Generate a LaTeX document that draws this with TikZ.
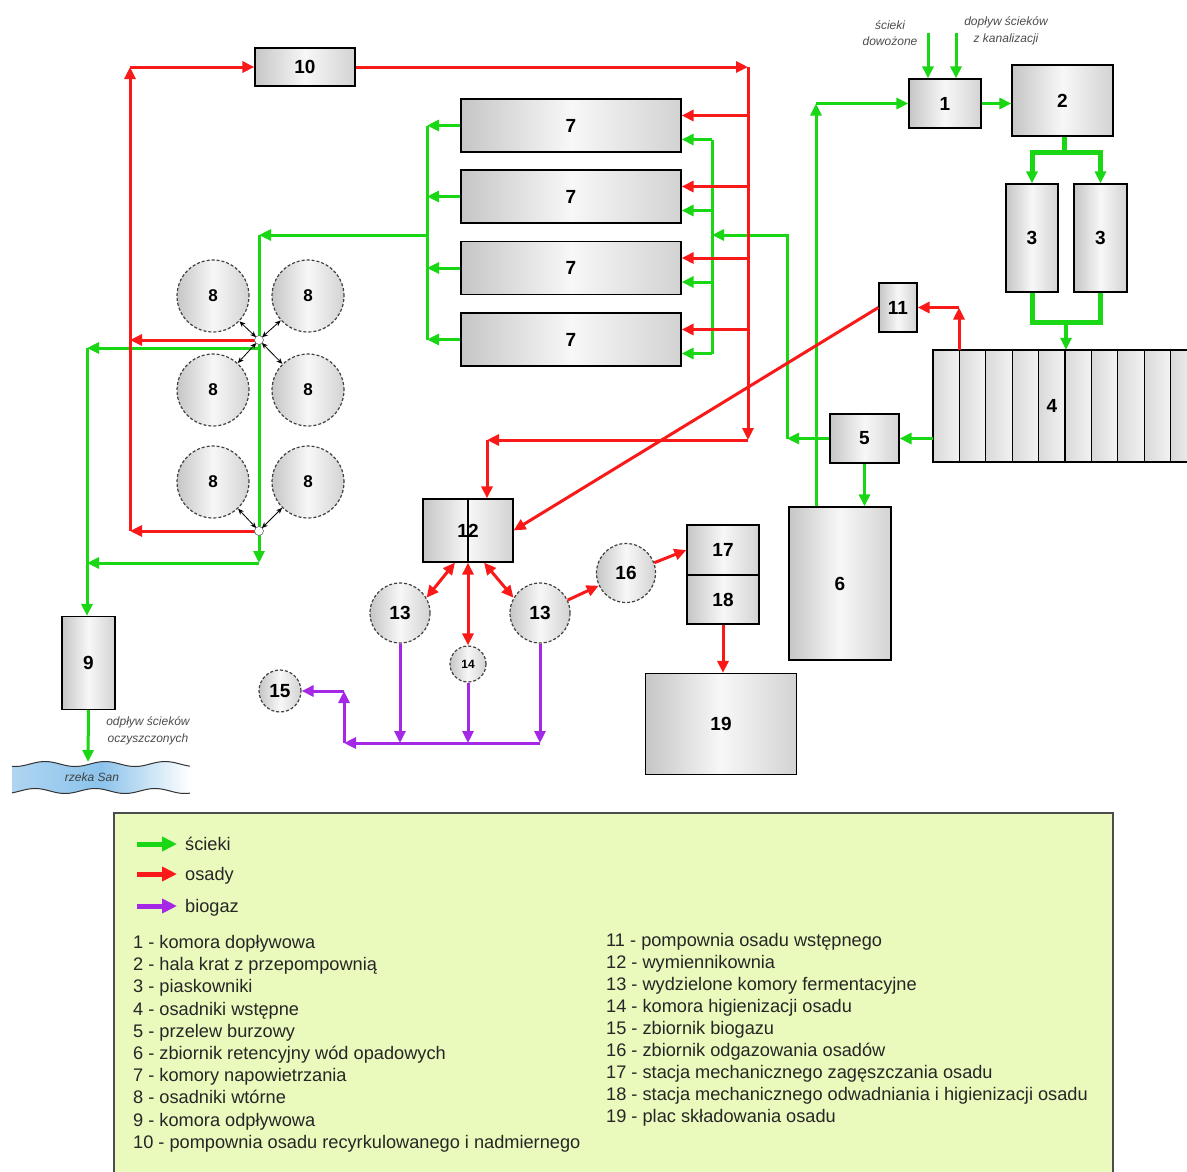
\documentclass[tikz,border=0pt]{standalone}
\usepackage{fontspec}
\setmainfont{Liberation Sans}
\usetikzlibrary{arrows.meta}
\definecolor{sciekgreen}{RGB}{25,215,20}
\definecolor{osadred}{RGB}{250,25,25}
\definecolor{gazviolet}{RGB}{165,40,230}
\definecolor{legendfill}{RGB}{234,249,188}
\definecolor{rzeka}{RGB}{140,195,235}
\begin{document}
\begin{tikzpicture}[x=1pt, y=-1pt,
box/.style={draw, line width=1.2pt, left color=gray!45, right color=gray!35, middle color=gray!6, inner sep=0pt, font=\bfseries\fontsize{19}{19}\selectfont},
zbiornik/.style={box, circle, draw=black!75, densely dashed},
wezel/.style={circle, draw=black!60, fill=white, inner sep=0pt, minimum size=9pt, line width=0.6pt},
rura/.style={line width=3pt},
scieki/.style={rura, sciekgreen, -{Triangle[length=12pt, width=11pt]}},
osady/.style={rura, osadred, -{Triangle[length=12pt, width=11pt]}},
osady2/.style={osady, {Triangle[length=12pt, width=11pt]}-{Triangle[length=12pt, width=11pt]}},
biogaz/.style={rura, gazviolet, -{Triangle[length=12pt, width=11pt]}},
lacznik/.style={black, line width=0.8pt, {Stealth[length=6pt, width=5pt]}-{Stealth[length=6pt, width=5pt]}},
opis/.style={font=\itshape\fontsize{12}{16.5}\selectfont, text=black!70, align=center},
pozycja/.style={anchor=base west, inner sep=0pt, text=black!85, font=\fontsize{18.2}{20}\selectfont}]
\useasboundingbox (0,0) rectangle (1187,1171);

\node[box, minimum width=100pt, minimum height=38pt] (p10) at (305,67) {10};
\node[box, minimum width=72pt, minimum height=49pt] (k1) at (945,103.5) {1};
\node[box, minimum width=101pt, minimum height=71pt] (k2) at (1062.5,100.5) {2};
\node[box, minimum width=52pt, minimum height=108pt] (k3a) at (1032,238) {3};
\node[box, minimum width=53pt, minimum height=108pt] (k3b) at (1100.5,238) {3};
\node[box, minimum width=38pt, minimum height=49pt] (k11) at (898,307.5) {11};
\foreach \i in {0,...,9}
	\shade[draw, line width=1.2pt, left color=gray!30, right color=gray!10] ({933+26.4*\i},350) rectangle ++(26.4,112);
\node[inner sep=0pt, minimum width=238pt, minimum height=112pt, font=\bfseries\fontsize{19}{19}\selectfont] (k4) at (1052,406) {4};
\node[box, minimum width=69pt, minimum height=49pt] (k5) at (864.5,438.5) {5};
\node[box, minimum width=102pt, minimum height=153pt] (k6) at (840,583.5) {6};
\foreach \n/\y in {a/125.5, b/196.5, c/268, d/339.5}
	\node[box, minimum width=220pt, minimum height=53pt] (k7\n) at (571,\y) {7};
\foreach \n/\x/\y in {a/213/296, b/308/296, c/213/390, d/308/390, e/213/482, f/308/482}
	\node[zbiornik, minimum size=72pt, font=\bfseries\fontsize{17}{17}\selectfont] (k8\n) at (\x,\y) {8};
\node[box, minimum width=53pt, minimum height=93pt] (k9) at (88.5,663) {9};
\node[box, minimum width=90pt, minimum height=63pt] (k12) at (468,530.5) {12};
\draw[line width=1.2pt] (k12.north) -- (k12.south);
\node[zbiornik, minimum size=60pt] (k13a) at (400,613) {13};
\node[zbiornik, minimum size=60pt] (k13b) at (540,613) {13};
\node[zbiornik, minimum size=36pt, font=\bfseries\fontsize{12}{12}\selectfont] (k14) at (468,664) {14};
\node[zbiornik, minimum size=42pt] (k15) at (280,691) {15};
\node[zbiornik, minimum size=59pt] (k16) at (626,573) {16};
\node[box, minimum width=72pt, minimum height=50pt] (k17) at (723,550) {17};
\node[box, minimum width=72pt, minimum height=49pt] (k18) at (723,599.5) {18};
\node[box, minimum width=151pt, minimum height=101pt] (k19) at (721,724) {19};

\shade[left color=rzeka!70, right color=white, middle color=rzeka]
	plot[domain=12:190, samples=60] (\x,{764+2.5*sin(6*\x)}) --
	plot[domain=190:12, samples=60] (\x,{791+2.5*sin(6*\x+60)}) -- cycle;
\draw[black!80, line width=1pt] plot[domain=12:190, samples=60] (\x,{764+2.5*sin(6*\x)});
\draw[black!80, line width=1pt] plot[domain=12:190, samples=60] (\x,{791+2.5*sin(6*\x+60)});
\node[opis, text=black!75] (san) at (92,777) {rzeka San};
\node[opis] (dowoz) at (890,33) {ścieki\\dowożone};
\node[opis] (kanal) at (1006,31) {dopływ ścieków\\z kanalizacji};
\node[opis] (odplyw) at (148,731) {odpływ ścieków\\oczyszczonych};

\coordinate (wl1) at (928,33);
\coordinate (wl2) at (956,33);
\coordinate (s2) at (1064,152);
\coordinate (m34) at (1066,322);
\coordinate (r6) at (816,103.5);
\coordinate (r5) at (787,438.5);
\coordinate (g7) at (712,235);
\coordinate (c7) at (427,235);
\coordinate (t8) at (259,235);
\coordinate (b8) at (259,563);
\coordinate (j1) at (259,340);
\coordinate (j2) at (259,531);
\coordinate (o9) at (87,348);
\coordinate (ujscie) at (88,762);
\coordinate (rr) at (748,67);
\coordinate (rb) at (748,440);
\coordinate (c12) at (487,440);
\coordinate (c11) at (959,307.5);
\coordinate (lr) at (130,67);
\coordinate (gb) at (344,743);
\coordinate (gt) at (344,691);

\draw[scieki] (wl1) -- (wl1 |- k1.north);
\draw[scieki] (wl2) -- (wl2 |- k1.north);
\draw[scieki] (k1.east) -- (k1.east -| k2.west);
\draw[rura, sciekgreen, line width=5pt] (k2.south -| s2) -- (s2);
\draw[scieki, line width=5pt] (s2) -| (k3a.north);
\draw[scieki, line width=5pt] (s2) -| (k3b.north);
\draw[rura, sciekgreen, line width=5pt] (k3a.south) -- ++(0,30) -| (k3b.south);
\draw[scieki, line width=4pt] (m34) -- (m34 |- k4.north);
\draw[scieki] (k4.west |- k5.east) -- (k5.east);
\draw[scieki] (k5.south) -- (k5.south |- k6.north);
\draw[scieki] (k6.north -| r6) -- (r6);
\draw[scieki] (r6) -- (k1.west);
\draw[scieki] (k5.west) -- (r5);
\draw[scieki] (r5) |- (g7);
\draw[rura, sciekgreen] ([yshift=-14pt]k7a.east -| g7) -- ([yshift=-14pt]k7d.east -| g7);
\foreach \n in {a,b,c,d}
	\draw[scieki] ([yshift=-14pt]k7\n.east -| g7) -- ([yshift=-14pt]k7\n.east);
\foreach \n in {a,b,c,d}
	\draw[scieki] (k7\n.west) -- (k7\n.west -| c7);
\draw[rura, sciekgreen] (k7a.west -| c7) -- (k7d.west -| c7);
\draw[scieki] (c7) -- (t8);
\draw[scieki] (t8) -- (b8);
\draw[scieki] (b8) -- (b8 -| o9);
\draw[scieki] ([yshift=-8pt]j1) -- (o9);
\draw[scieki] (o9) -- (o9 |- k9.north);
\draw[scieki] (k9.south) -- (ujscie);

\draw[osady] (p10.east) -- (rr);
\draw[osady] (rr) -- (rb);
\foreach \n in {a,b,c,d}
	\draw[osady] ([yshift=10pt]k7\n.east -| rr) -- ([yshift=10pt]k7\n.east);
\draw[osady] (rb) -- (c12);
\draw[osady] (c12) -- (c12 |- k12.north);
\draw[osady] (k4.north -| c11) -- (c11);
\draw[osady] (c11) -- (k11.east);
\draw[osady] (k11.west) -- (k12.east);
\draw[osady2] ([xshift=-13pt]k12.south) -- (k13a.30);
\draw[osady2] (k12.south) -- (k14.north);
\draw[osady2] ([xshift=16pt]k12.south) -- (k13b.150);
\draw[osady] (k13b.25) -- (k16.205);
\draw[osady] (k16.20) -- (k17.west);
\draw[osady] (k18.south) -- (k18.south |- k19.north);
\draw[osady] (j1) -- (j1 -| lr);
\draw[osady] (j2) -- (j2 -| lr);
\draw[osady] (j2 -| lr) -- (lr);
\draw[osady] (lr) -- (p10.west);

\foreach \n in {k13a, k14, k13b}
	\draw[biogaz] (\n.south) -- (\n.south |- gb);
\draw[biogaz] (k13b.south |- gb) -- (gb);
\draw[biogaz] (gb) -- (gt);
\draw[biogaz] (gt) -- (k15.east);

\foreach \n in {a,b,c,d}
	\draw[lacznik, shorten <=4pt] (j1) -- (k8\n);
\foreach \n in {e,f}
	\draw[lacznik, shorten <=4pt] (j2) -- (k8\n);
\node[wezel] (w1) at (j1) {};
\node[wezel] (w2) at (j2) {};

\node[draw=black!70, line width=1.5pt, fill=legendfill, minimum width=999pt, minimum height=370pt, anchor=north west, inner sep=0pt] (legenda) at (113,812) {};
\foreach \t/\k/\y in {ścieki/scieki/850, osady/osady/880, biogaz/biogaz/912} {
	\node[pozycja] (klucz\k) at (185,\y) {\t};
	\draw[\k, line width=5pt, -{Triangle[length=15pt, width=14pt]}] ([xshift=-48pt, yshift=6pt]klucz\k.base west) -- ([xshift=-8pt, yshift=6pt]klucz\k.base west);
}
\foreach \t [count=\i] in {komora dopływowa, hala krat z przepompownią, piaskowniki, osadniki wstępne, przelew burzowy, zbiornik retencyjny wód opadowych, komory napowietrzania, osadniki wtórne, komora odpływowa, pompownia osadu recyrkulowanego i nadmiernego}
	\node[pozycja] (opis\i) at (133,{948.5+22.2*(\i-1)}) {\i{} - \t};
\foreach \t [count=\i from 11] in {pompownia osadu wstępnego, wymiennikownia, wydzielone komory fermentacyjne, komora higienizacji osadu, zbiornik biogazu, zbiornik odgazowania osadów, stacja mechanicznego zagęszczania osadu, stacja mechanicznego odwadniania i higienizacji osadu, plac składowania osadu}
	\node[pozycja] (opis\i) at (606,{946.5+22*(\i-11)}) {\i{} - \t};
\end{tikzpicture}
\end{document}
